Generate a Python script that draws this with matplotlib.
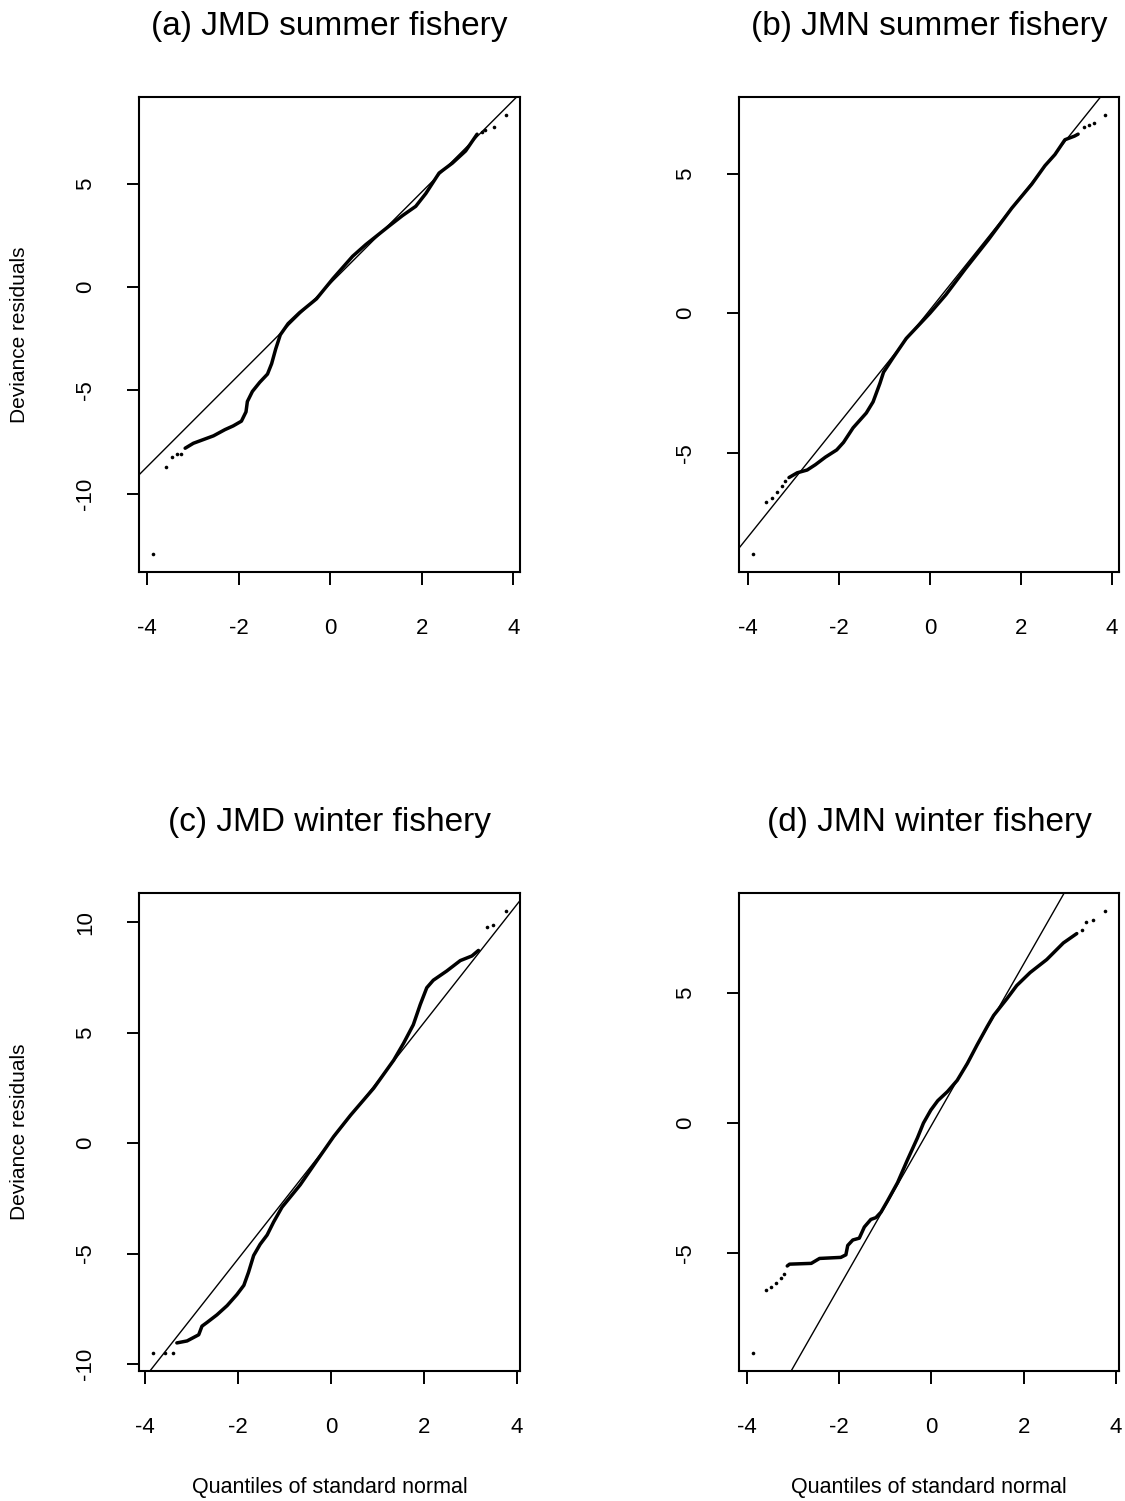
import matplotlib
matplotlib.use("Agg")
import matplotlib.pyplot as plt

plt.rcParams['font.family'] = ['Liberation Sans', 'DejaVu Sans']
plt.rcParams['axes.unicode_minus'] = False

# ---------------- data ----------------
titles = ["(a) JMD summer fishery", "(b) JMN summer fishery",
          "(c) JMD winter fishery", "(d) JMN winter fishery"]
y_ticks = [[-10, -5, 0, 5], [-5, 0, 5], [-10, -5, 0, 5, 10], [-5, 0, 5]]
x_ticks = [-4, -2, 0, 2, 4]

# panel (a)
a_curve_x = [-3.17, -2.99, -2.77, -2.55, -2.30, -2.12, -1.94, -1.84, -1.81, -1.70, -1.54,
             -1.37, -1.28, -1.19, -1.09, -0.92, -0.67, -0.30, 0.06, 0.49, 0.78, 1.29,
             1.58, 1.87, 2.09, 2.38, 2.67, 2.96, 3.21]
a_curve_y = [-7.80, -7.56, -7.38, -7.20, -6.90, -6.72, -6.49, -6.04, -5.54, -5.05, -4.61,
             -4.21, -3.71, -2.99, -2.31, -1.77, -1.24, -0.57, 0.41, 1.49, 2.06, 2.96,
             3.46, 3.91, 4.53, 5.52, 6.00, 6.59, 7.40]
a_dots_x = [-3.87, -3.59, -3.46, -3.34, -3.26, 3.32, 3.39, 3.58, 3.84]
a_dots_y = [-12.94, -8.69, -8.23, -8.10, -8.06, 7.49, 7.58, 7.76, 8.35]
a_line = (0.17, 2.216)   # intercept, slope

# panel (b)
b_curve_x = [-3.10, -2.92, -2.70, -2.52, -2.30, -2.05, -1.90, -1.69, -1.40, -1.25, -1.10,
             -1.02, -0.81, -0.52, 0.00, 0.35, 0.78, 1.29, 1.80, 2.24, 2.53, 2.75, 2.97,
             3.18, 3.26]
b_curve_y = [-5.88, -5.71, -5.61, -5.42, -5.15, -4.89, -4.62, -4.10, -3.57, -3.17, -2.51,
             -2.11, -1.59, -0.90, 0.00, 0.66, 1.59, 2.64, 3.76, 4.62, 5.28, 5.68, 6.21,
             6.34, 6.41]
b_dots_x = [-3.89, -3.60, -3.47, -3.36, -3.26, -3.18, 3.40, 3.49, 3.60, 3.85]
b_dots_y = [-8.63, -6.74, -6.61, -6.38, -6.18, -6.01, 6.67, 6.74, 6.80, 7.11]
b_line = (0.12, 2.03)

# panel (c)
c_curve_x = [-3.31, -3.09, -2.84, -2.77, -2.66, -2.45, -2.23, -2.02, -1.87, -1.77, -1.66,
             -1.52, -1.37, -1.23, -1.05, -0.66, -0.30, 0.06, 0.42, 0.92, 1.35, 1.56,
             1.77, 1.92, 2.06, 2.20, 2.49, 2.78, 3.03, 3.17]
c_curve_y = [-9.05, -8.96, -8.68, -8.29, -8.12, -7.78, -7.36, -6.86, -6.44, -5.85, -5.09,
             -4.58, -4.16, -3.57, -2.90, -1.89, -0.79, 0.30, 1.26, 2.49, 3.76, 4.52,
             5.36, 6.28, 7.04, 7.38, 7.80, 8.27, 8.48, 8.73]
c_dots_x = [-3.82, -3.56, -3.39, 3.35, 3.49, 3.76]
c_dots_y = [-9.52, -9.52, -9.50, 9.79, 9.87, 10.53]
c_line = (0.10, 2.68)

# panel (d)
d_curve_x = [-3.12, -3.07, -2.60, -2.42, -1.96, -1.85, -1.81, -1.70, -1.56, -1.45, -1.31,
             -1.20, -1.09, -0.95, -0.73, -0.52, -0.30, -0.17, -0.01, 0.14, 0.35, 0.56,
             0.78, 0.99, 1.21, 1.35, 1.64, 1.85, 2.14, 2.50, 2.86, 3.15]
d_curve_y = [-5.50, -5.43, -5.40, -5.21, -5.17, -5.07, -4.71, -4.50, -4.43, -4.00, -3.71,
             -3.64, -3.43, -3.00, -2.29, -1.43, -0.57, 0.00, 0.50, 0.86, 1.21, 1.64,
             2.29, 3.00, 3.71, 4.14, 4.79, 5.29, 5.79, 6.29, 6.93, 7.29]
d_dots_x = [-3.86, -3.57, -3.47, -3.36, -3.26, -3.19, 3.26, 3.36, 3.51, 3.76]
d_dots_y = [-8.86, -6.43, -6.29, -6.14, -5.97, -5.79, 7.43, 7.74, 7.83, 8.17]
d_line = (-0.10, 3.11)

curves = [(a_curve_x, a_curve_y), (b_curve_x, b_curve_y),
          (c_curve_x, c_curve_y), (d_curve_x, d_curve_y)]
dots = [(a_dots_x, a_dots_y), (b_dots_x, b_dots_y),
        (c_dots_x, c_dots_y), (d_dots_x, d_dots_y)]
lines = [a_line, b_line, c_line, d_line]

# ---------------- layout ----------------
W, H = 1125, 1501
fig = plt.figure(figsize=(W / 100, H / 100), dpi=100)

boxes_px = [(139, 520, 97, 572), (739, 1119, 97, 572),
            (139, 520, 893, 1371), (739, 1119, 893, 1371)]
title_y_px = [27, 27, 823, 823]

for i in range(4):
    l, r, t, b = boxes_px[i]
    ax = fig.add_axes([l / W, 1 - b / H, (r - l) / W, (b - t) / H])
    cx, cy = curves[i]
    dx, dy = dots[i]
    allx = list(cx) + list(dx)
    ally = list(cy) + list(dy)
    xr = max(allx) - min(allx)
    yr = max(ally) - min(ally)
    ax.set_xlim(min(allx) - 0.04 * xr, max(allx) + 0.04 * xr)
    ax.set_ylim(min(ally) - 0.04 * yr, max(ally) + 0.04 * yr)

    ax.plot(cx, cy, color='black', lw=2.5, solid_capstyle='round',
            solid_joinstyle='round')
    ax.plot(dx, dy, linestyle='none', marker='o', ms=2.6, color='black', mew=0)
    inter, slope = lines[i]
    ax.axline((0, inter), slope=slope, color='black', lw=1.0)

    for s in ax.spines.values():
        s.set_linewidth(1.5)
    ax.set_xticks(x_ticks)
    ax.set_xticklabels([str(v) for v in x_ticks])
    ax.set_yticks(y_ticks[i])
    ax.set_yticklabels([str(v) for v in y_ticks[i]], rotation=90, va='center')
    ax.tick_params(axis='x', direction='out', length=9, width=1.4, pad=24,
                   labelsize=16)
    ax.tick_params(axis='y', direction='out', length=9, width=1.4, pad=22,
                   labelsize=16)

    fig.text((l + r) / 2 / W, 1 - title_y_px[i] / H, titles[i],
             ha='center', va='center', fontsize=24)
    if i in (0, 2):
        fig.text(20 / W, 1 - (t + b) / 2 / H, "Deviance residuals",
                 rotation=90, ha='center', va='center', fontsize=15)
    if i in (2, 3):
        fig.text((l + r) / 2 / W, 1 - 1487 / H, "Quantiles of standard normal",
                 ha='center', va='center', fontsize=15.5)

fig.savefig("out.png", dpi=100)
